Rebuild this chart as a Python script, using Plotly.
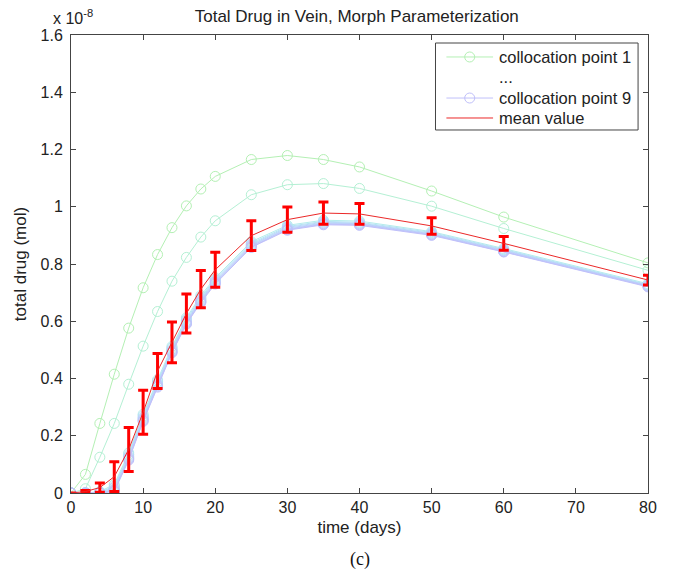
import plotly.graph_objects as go

# time points (days)
t = [0, 2, 4, 6, 8, 10, 12, 14, 16, 18, 20, 25, 30, 35, 40, 50, 60, 80]

# total drug (x 1e-8 mol) for each collocation point
cp1 = [0, 0.065, 0.243, 0.415, 0.576, 0.717, 0.833, 0.927, 1.003, 1.062, 1.106, 1.165, 1.179, 1.165, 1.139, 1.055, 0.964, 0.804]
cp2 = [0, 0.015, 0.125, 0.243, 0.380, 0.513, 0.634, 0.740, 0.823, 0.894, 0.951, 1.042, 1.077, 1.081, 1.064, 1.002, 0.924, 0.778]
cp3 = [0, 0, 0.005, 0.030, 0.140, 0.275, 0.395, 0.512, 0.612, 0.690, 0.752, 0.878, 0.935, 0.953, 0.950, 0.913, 0.854, 0.731]
cp4 = [0, 0, 0.003, 0.024, 0.134, 0.269, 0.389, 0.507, 0.607, 0.684, 0.747, 0.873, 0.931, 0.949, 0.946, 0.910, 0.851, 0.728]
cp5 = [0, 0, 0.002, 0.019, 0.129, 0.264, 0.384, 0.502, 0.602, 0.679, 0.743, 0.869, 0.928, 0.946, 0.943, 0.907, 0.849, 0.726]
cp6 = [0, 0, 0.001, 0.014, 0.125, 0.260, 0.380, 0.498, 0.598, 0.675, 0.739, 0.866, 0.925, 0.943, 0.941, 0.905, 0.847, 0.725]
cp7 = [0, 0, 0, 0.010, 0.121, 0.256, 0.376, 0.495, 0.595, 0.671, 0.736, 0.863, 0.922, 0.941, 0.939, 0.903, 0.845, 0.723]
cp8 = [0, 0, 0, 0.007, 0.118, 0.253, 0.373, 0.492, 0.592, 0.668, 0.733, 0.860, 0.920, 0.939, 0.937, 0.902, 0.843, 0.722]
cp9 = [0, 0, 0, 0.005, 0.115, 0.250, 0.370, 0.490, 0.590, 0.665, 0.730, 0.858, 0.918, 0.937, 0.935, 0.900, 0.842, 0.720]
curves = [cp1, cp2, cp3, cp4, cp5, cp6, cp7, cp8, cp9]

mean_val = [0, 0.005, 0.019, 0.057, 0.152, 0.282, 0.426, 0.526, 0.627, 0.712, 0.780, 0.899, 0.955, 0.978, 0.975, 0.933, 0.872, 0.744]
err_half = [0, 0.004, 0.016, 0.052, 0.077, 0.077, 0.061, 0.071, 0.068, 0.065, 0.061, 0.052, 0.044, 0.039, 0.036, 0.029, 0.024, 0.017]

x_ticks = [0, 10, 20, 30, 40, 50, 60, 70, 80]
y_ticks = [0, 0.2, 0.4, 0.6, 0.8, 1.0, 1.2, 1.4, 1.6]
y_ticktext = ["0", "0.2", "0.4", "0.6", "0.8", "1", "1.2", "1.4", "1.6"]

legend_labels = ["collocation point 1", "...", "collocation point 9", "mean value"]

colors = [
    "rgb(180,240,180)", "rgb(180,240,212)", "rgb(180,236,236)", "rgb(182,228,244)",
    "rgb(184,220,248)", "rgb(186,212,250)", "rgb(188,204,250)", "rgb(190,197,250)",
    "rgb(192,192,250)",
]
MEAN_C = "rgb(235,40,40)"
ERR_C = "rgb(255,0,0)"

FONT = "Liberation Sans, Arial, sans-serif"
AX = "#444444"

fig = go.Figure()
for i, (yv, c) in enumerate(zip(curves, colors)):
    fig.add_trace(go.Scatter(
        x=t, y=yv, mode="lines+markers",
        line=dict(color=c, width=1),
        marker=dict(symbol="circle-open", size=10, color=c, line=dict(width=1, color=c)),
        name=f"collocation point {i+1}", showlegend=False,
    ))

fig.add_trace(go.Scatter(
    x=t, y=mean_val, mode="lines",
    line=dict(color=MEAN_C, width=1),
    error_y=dict(type="data", array=err_half, visible=True, color=ERR_C,
                 thickness=3, width=5),
    name="mean value", showlegend=False,
))

fig.update_layout(
    width=672, height=564,
    margin=dict(l=59, r=32, t=27, b=79),
    paper_bgcolor="white", plot_bgcolor="white",
    font=dict(family=FONT, size=16, color="#222222"),
    title=dict(text="Total Drug in Vein, Morph Parameterization", x=0.519, xanchor="center",
               y=0.986, yanchor="middle", font=dict(size=17)),
    showlegend=False,
    xaxis=dict(range=[0, 80], tickvals=x_ticks,
               ticks="inside", ticklen=5, tickcolor=AX, showline=True, linecolor=AX,
               linewidth=1, mirror="allticks", showgrid=False, zeroline=False,
               title=dict(text="time (days)", standoff=5, font=dict(size=17)),
               tickfont=dict(size=16)),
    yaxis=dict(range=[0, 1.6], tickvals=y_ticks, ticktext=y_ticktext,
               ticks="inside", ticklen=5, tickcolor=AX, showline=True, linecolor=AX,
               linewidth=1, mirror="allticks", showgrid=False, zeroline=False,
               ticklabelstandoff=4,
               title=dict(text="total drug (mol)", standoff=9, font=dict(size=17)),
               tickfont=dict(size=16)),
)

# exponent label
fig.add_annotation(text="x 10<sup>-8</sup>", xref="paper", yref="paper",
                   x=-0.035, y=1.0, xanchor="left", yanchor="bottom",
                   showarrow=False, font=dict(size=16), yshift=6)
# caption
fig.add_annotation(text="(c)", xref="paper", yref="paper", x=0.5, y=-0.146,
                   xanchor="center", yanchor="middle", showarrow=False,
                   font=dict(family="Liberation Serif, Times New Roman, serif", size=18, color="#111111"))

# manual legend (paper coordinates)
box = dict(x0=0.6317, x1=0.9828, y0=0.7926, y1=0.9825)
row_y = [0.952, 0.9085, 0.8624, 0.8188]
seg_x0, seg_x1, circ_x, text_x = 0.6506, 0.7315, 0.691, 0.7418
fig.add_shape(type="rect", xref="paper", yref="paper", **box,
              line=dict(color=AX, width=1), fillcolor="white", layer="above")
legend_styles = [(colors[0], True), (None, False), (colors[8], True), (MEAN_C, False)]
for lbl, yy, (col, circ) in zip(legend_labels, row_y, legend_styles):
    if col is not None:
        fig.add_shape(type="line", xref="paper", yref="paper", x0=seg_x0, x1=seg_x1,
                      y0=yy, y1=yy, line=dict(color=col, width=1), layer="above")
    if circ:
        fig.add_shape(type="circle", xref="paper", yref="paper",
                      xsizemode="pixel", ysizemode="pixel", xanchor=circ_x, yanchor=yy,
                      x0=-5, x1=5, y0=-5, y1=5, line=dict(color=col, width=1), layer="above")
    fig.add_annotation(text=lbl, xref="paper", yref="paper", x=text_x, y=yy,
                       xanchor="left", yanchor="middle", showarrow=False,
                       font=dict(size=16.5), xshift=-2)

fig.write_html("out.html")
